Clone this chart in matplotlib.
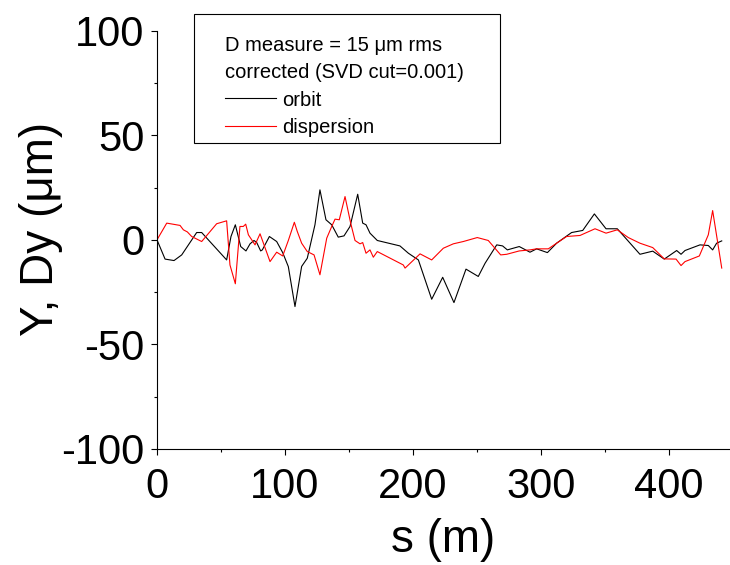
import matplotlib
matplotlib.use('Agg')
import matplotlib.pyplot as plt
from matplotlib.lines import Line2D
from matplotlib.patches import Rectangle
from matplotlib.ticker import MultipleLocator

plt.rcParams['font.family'] = ['Liberation Sans', 'DejaVu Sans']
plt.rcParams['axes.unicode_minus'] = False

# orbit (black)
orbit_s = [0, 6.3, 13.3, 19.3, 31, 34.9, 54.4, 57.8, 61.2, 65.4, 69.5, 72.7, 75.8, 77.9,
           81, 82.3, 87.8, 93.5, 98.2, 102.6, 107.8, 113, 117.4, 123.4, 127.3, 132, 136.5,
           141.6, 146.1, 150.8, 156.8, 160.7, 163.3, 166.4, 172.1, 189.8, 196.4, 204.2,
           214.6, 223.2, 232, 241.4, 251, 256.3, 265.4, 270, 273.7, 283, 291.4, 296.6, 305,
           312.2, 323.9, 332.6, 341.7, 350.8, 359.6, 377.3, 387.3, 396.3, 406, 409.4, 412.5,
           424.2, 430.7, 434.1, 437.2, 441.2]
orbit_y = [0, -9.2, -9.9, -7.2, 3.5, 3.5, -9.6, 1.6, 7.2, -3.2, -5.3, -1.9, -0.3, -1.3,
           -5.3, -4.8, 1.6, -0.8, -6.1, -12.8, -31.9, -12.7, -8.8, 7.2, 23.9, 9.6, 7.2,
           1.3, 1.9, 6.4, 21.8, 8, 7.2, 3.2, -0.3, -2.9, -6.4, -9.6,
           -28.4, -17.9, -30, -14, -17.5, -11.2, -2.4, -2.9, -4.8, -3.2, -5.9, -4.3, -6.1,
           -1.6, 3.5, 4.5, 12.4, 5.3, 5.3, -6.9, -5.4, -9.2, -5.1, -6.9, -5.1,
           -2.4, -2.7, -4.8, -1.6, -0.5]

# dispersion (red)
disp_s = [0, 7.6, 18, 20.6, 23.7, 27.1, 34.9, 46.6, 54.4, 57, 61.2, 64.8, 67.4, 69.3, 71.4,
          74, 76.6, 80.5, 88.3, 93.5, 98.2, 102.6, 107.3, 109.6, 113, 117.4, 122.7, 127.3,
          132.6, 136.5, 139.1, 142.4, 146.9, 151.3, 154.7, 158.6, 160.7, 163.3, 166.4, 169,
          172.1, 192.4, 193.8, 196.4, 205.5, 214.6, 223.7, 231.5, 239.3, 250.2, 258.8, 268.5,
          273.2, 283, 291.4, 296.6, 305.7, 312.2, 320, 330.5, 342.2, 350.8, 359.6, 368.2,
          377.3, 387.3, 396.3, 405.5, 409.4, 412.5, 423.7, 430.7, 434.1, 441.2]
disp_y = [0, 8.0, 6.9, 4.8, 3.8, 1.6, -0.8, 7.7, 9.1, -12, -21, 6.4, 6.4, 7.5, 2.4,
          0, -2.4, 2.9, -10.4, -5.9, -7.7, -0.3, 8.4, 4, -1.6, -5.6, -7.2, -16.7,
          0.8, 6.4, 9.9, 9.6, 20.7, 8, -0.3, -1.9, -1.3, -6.4, -4.8, -8.3,
          -5.6, -12, -13.5, -12, -6.7, -9.6, -4, -1.9, -0.8, 1.1, -0.3, -7.2,
          -6.9, -5.3, -4.8, -4.3, -4.3, -1.6, 1.6, 2.1, 5.3, 3.2, 4.8, 1.1,
          -1.6, -3.7, -9.1, -9.2, -12.3, -10.4, -7.7, 2.4, 14, -13.5]

legend_title = ['D measure = 15 \u03bcm rms', 'corrected (SVD cut=0.001)']
labels = ['orbit', 'dispersion']

W, H = 730, 565
fig = plt.figure(figsize=(7.3, 5.65), dpi=100)
ax = fig.add_axes([157 / W, 116 / H, 576 / W, 418.3 / H])

ax.plot(orbit_s, orbit_y, color='black', lw=0.8)
ax.plot(disp_s, disp_y, color='red', lw=0.8)

ax.set_xlim(0, 450)
ax.set_ylim(-100, 100)
ax.xaxis.set_major_locator(MultipleLocator(100))
ax.xaxis.set_minor_locator(MultipleLocator(50))
ax.yaxis.set_major_locator(MultipleLocator(50))
ax.yaxis.set_minor_locator(MultipleLocator(25))
ax.spines['top'].set_visible(False)
ax.spines['right'].set_visible(False)
for sp in ['left', 'bottom']:
    ax.spines[sp].set_linewidth(0.8)
ax.tick_params(which='major', direction='out', length=4, width=0.8, labelsize=30)
ax.tick_params(which='minor', direction='out', length=2.5, width=0.8)
ax.tick_params(axis='y', which='major', pad=5)
ax.tick_params(axis='x', which='major', pad=9)

ax.set_xlabel('s (m)', fontsize=33)
ax.set_ylabel('Y, Dy (\u03bcm)', fontsize=33)
ax.xaxis.set_label_coords(0.4965, -0.164)
ax.yaxis.set_label_coords(-0.163, 0.526)

# legend box drawn by hand, in pixel positions of the figure
fig.add_artist(Rectangle((194 / W, 1 - 143 / H), 306 / W, 129 / H, transform=fig.transFigure,
                         facecolor='white', edgecolor='black', lw=0.8, zorder=5))
fig.text(225 / W, 1 - 51 / H, legend_title[0], fontsize=14.5, va='baseline', zorder=6)
fig.text(225 / W, 1 - 78 / H, legend_title[1], fontsize=14.5, va='baseline', zorder=6)
for lab, col, yl, yt in [(labels[0], 'black', 98, 106), (labels[1], 'red', 126, 133)]:
    fig.add_artist(Line2D([225 / W, 276 / W], [1 - yl / H, 1 - yl / H], color=col, lw=0.8,
                          transform=fig.transFigure, zorder=6))
    fig.text(282 / W, 1 - yt / H, lab, fontsize=14.5, va='baseline', zorder=6)

fig.savefig('out.png', dpi=100)
